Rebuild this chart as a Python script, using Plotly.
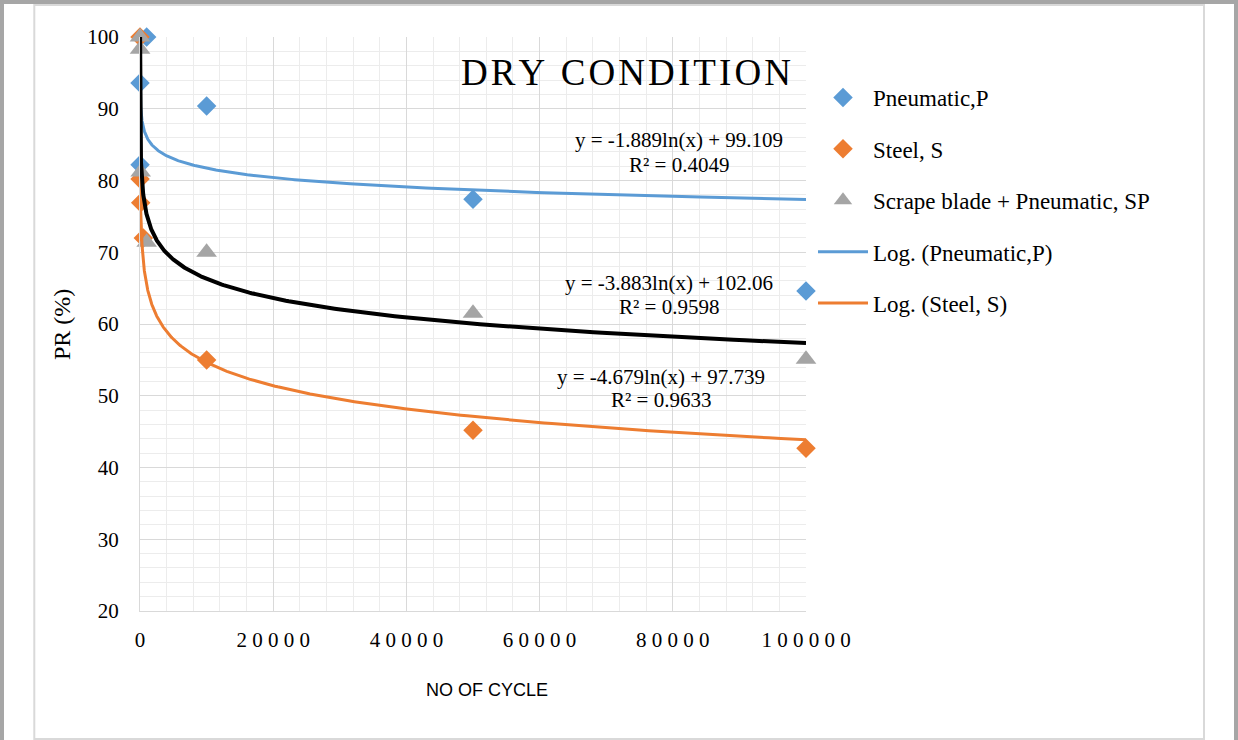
import numpy as np
import plotly.graph_objects as go

# ---------------- data ----------------
p_x = [1000, 1, 10, 10000, 50000, 100000]
p_y = [100.0, 93.6, 82.2, 90.4, 77.4, 64.6]

s_x = [1, 10, 100, 500, 10000, 50000, 100000]
s_y = [100.0, 80.2, 76.9, 72.0, 55.0, 45.2, 42.7]

sp_x = [1, 10, 100, 1000, 10000, 50000, 100000]
sp_y = [100.0, 98.3, 81.2, 71.4, 70.0, 61.5, 55.1]

# fitted log trendlines  y = a*ln(x) + b  (as printed on the chart)
p_fit = (-1.889, 99.109, 0.4049)
s_fit = (-4.679, 97.739, 0.9633)
sp_fit = (-3.883, 102.06, 0.9598)

x_ticks = [0, 20000, 40000, 60000, 80000, 100000]
y_ticks = [20, 30, 40, 50, 60, 70, 80, 90, 100]

BLUE = "#5B9BD5"
ORANGE = "#ED7D31"
GRAY = "#A5A5A5"
SERIF = "Liberation Serif, Times New Roman, serif"

# plot area in pixels
W, H = 1238, 740
L, R, T, B = 140, 806, 37, 611


def px_x(p):
    return (p - L) / (R - L)


def px_y(p):
    return (B - p) / (B - T)


xs = np.geomspace(1, 100000, 600)

fig = go.Figure()

fig.add_trace(go.Scatter(x=p_x, y=p_y, mode="markers", name="Pneumatic,P",
                         legendgroup="g1", cliponaxis=False,
                         marker=dict(symbol="diamond", size=15, color=BLUE)))
fig.add_trace(go.Scatter(x=s_x, y=s_y, mode="markers", name="Steel, S",
                         legendgroup="g2", cliponaxis=False,
                         marker=dict(symbol="diamond", size=15, color=ORANGE)))
fig.add_trace(go.Scatter(x=sp_x, y=sp_y, mode="markers",
                         name="Scrape blade + Pneumatic, SP",
                         legendgroup="g3", cliponaxis=False,
                         marker=dict(symbol="triangle-up", size=18, color=GRAY)))

fig.add_trace(go.Scatter(x=xs, y=p_fit[0] * np.log(xs) + p_fit[1], mode="lines",
                         name="Log. (Pneumatic,P)", legendgroup="g4",
                         line=dict(color=BLUE, width=3)))
fig.add_trace(go.Scatter(x=xs, y=s_fit[0] * np.log(xs) + s_fit[1], mode="lines",
                         name="Log. (Steel, S)", legendgroup="g5",
                         line=dict(color=ORANGE, width=3)))
fig.add_trace(go.Scatter(x=xs, y=sp_fit[0] * np.log(xs) + sp_fit[1], mode="lines",
                         name="Log. (Scrape blade + Pneumatic, SP)",
                         showlegend=False,
                         line=dict(color="black", width=4)))


def spaced(s, sp):
    return sp.join(list(s))


annos = []


def add_text(text, cx, cy, size, family=SERIF, color="black"):
    annos.append(dict(text=text, x=px_x(cx), y=px_y(cy), xref="paper", yref="paper",
                      xanchor="center", yanchor="middle", showarrow=False,
                      font=dict(size=size, family=family, color=color)))


def eq_text(fit):
    a, b, r2 = fit
    return "y = -{:.3f}ln(x) + {:g}".format(abs(a), b), "R² = {:.4f}".format(r2)


add_text(spaced("DRY CONDITION", "\u200A"), 626, 72, 37)
e1, r1 = eq_text(p_fit)
add_text(e1, 679, 140, 21)
add_text(r1, 679, 165, 21)
e2, r2 = eq_text(sp_fit)
add_text(e2, 669, 283, 21)
add_text(r2, 669, 307, 21)
e3, r3 = eq_text(s_fit)
add_text(e3, 661, 377, 21)
add_text(r3, 661, 400, 21)

# axis titles
add_text("NO OF CYCLE", 487, 690, 18, family="Liberation Sans, Arial, sans-serif")
annos.append(dict(text="PR (%)", x=px_x(62), y=px_y(325), xref="paper", yref="paper",
                  xanchor="center", yanchor="middle", showarrow=False, textangle=-90,
                  font=dict(size=24, family=SERIF, color="black")))

shapes = [
    # outer dark frame
    dict(type="rect", xref="paper", yref="paper",
         x0=px_x(0), x1=px_x(W), y0=px_y(0), y1=px_y(H + 10),
         line=dict(color="#A6A6A6", width=8), layer="above"),
    # inner light frame
    dict(type="rect", xref="paper", yref="paper",
         x0=px_x(34.3), x1=px_x(1204), y0=px_y(5), y1=px_y(739),
         line=dict(color="#D9D9D9", width=2), layer="above"),
]

fig.update_layout(
    width=W, height=H, autosize=False,
    margin=dict(l=L, r=W - R, t=T, b=H - B, pad=0),
    paper_bgcolor="white", plot_bgcolor="white",
    showlegend=True,
    legend=dict(x=px_x(813), y=px_y(76), xanchor="left", yanchor="top",
                font=dict(size=23, family=SERIF, color="black"),
                traceorder="grouped", tracegroupgap=18.5, itemwidth=50,
                bgcolor="rgba(0,0,0,0)", borderwidth=0),
    annotations=annos,
    shapes=shapes,
    xaxis=dict(range=[0, 100000], tickmode="array", tickvals=x_ticks,
               ticktext=[spaced(str(v), "\u2005") for v in x_ticks],
               tickfont=dict(size=21, family=SERIF, color="black"),
               showgrid=True, gridcolor="#D9D9D9", gridwidth=1,
               showline=True, linecolor="#D9D9D9", linewidth=1,
               zeroline=False, ticks="", ticklabelstandoff=10,
               minor=dict(tickmode="linear", tick0=0, dtick=4000, showgrid=True,
                          gridcolor="#ECECEC", gridwidth=1)),
    yaxis=dict(range=[20, 100], tickmode="array", tickvals=y_ticks,
               tickfont=dict(size=21, family=SERIF, color="black"),
               showgrid=True, gridcolor="#D9D9D9", gridwidth=1,
               showline=True, linecolor="#D9D9D9", linewidth=1,
               zeroline=False, ticks="", ticklabelstandoff=16,
               minor=dict(tickmode="linear", tick0=0, dtick=2, showgrid=True,
                          gridcolor="#ECECEC", gridwidth=1)),
)

fig.write_html("out.html",
               config={"displayModeBar": False},
               post_script="document.body.style.margin='0';"
                           "document.body.style.overflow='hidden';")
